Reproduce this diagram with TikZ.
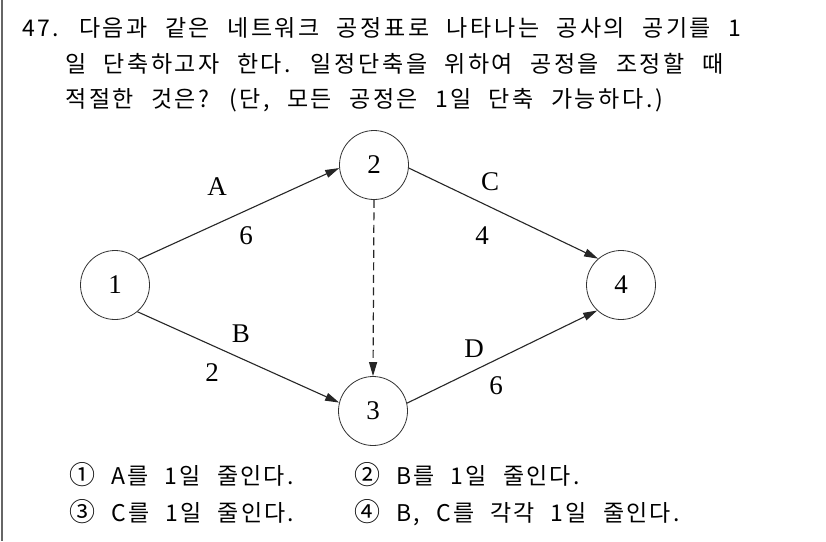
\documentclass[tikz,border=0pt]{standalone}
\usepackage{fontspec}
\setmainfont{Liberation Serif}
\newfontfamily\kr[LetterSpace=11.5,WordSpace=2.2]{Noto Sans CJK KR}
\newfontfamily\krc[LetterSpace=9.5,WordSpace=2.2]{Noto Sans CJK KR}
\newcommand\circnum[1]{{\fontsize{26}{26}\selectfont #1}}
\usetikzlibrary{arrows.meta}
\begin{document}
\begin{tikzpicture}[x=1pt,y=-1pt,
  ev/.style={circle,draw=black!80,line width=0.8pt,minimum size=69pt,inner sep=0pt,font=\fontsize{27}{28}\selectfont},
  lab/.style={inner sep=0pt,font=\fontsize{27}{28}\selectfont},
  act/.style={draw=black!85,line width=1.1pt,-{Triangle[length=14pt,width=8pt]}},
  txt/.style={anchor=base west,inner sep=0pt,font=\kr\fontsize{23}{26}\selectfont},
  ctxt/.style={anchor=base west,inner sep=0pt,font=\krc\fontsize{23}{26}\selectfont}]
\useasboundingbox (0,0) rectangle (826,541);
\fill[white] (0,0) rectangle (826,541);
\draw[black!60,line width=2pt] (1.5,0) -- (1.5,541);
% question text
\node[txt] (q1) at (22,36) {47. 다음과 같은 네트워크 공정표로 나타나는 공사의 공기를 1};
\node[txt] (q2) at (65,72) {일 단축하고자 한다. 일정단축을 위하여 공정을 조정할 때};
\node[txt] (q3) at (65,107) {적절한 것은? (단, 모든 공정은 1일 단축 가능하다.)};
% network
\node[ev] (n1) at (115,285) {1};
\node[ev] (n2) at (374,165) {2};
\node[ev] (n3) at (373,411) {3};
\node[ev] (n4) at (621,285) {4};
\draw[act] (n1.47) -- (n2.185);
\draw[act] (n1.-50) -- (n3.166);
\draw[act] (n2.-5) -- (n4.131);
\draw[act] (n3.13) -- (n4.227);
\draw[act,line width=1.2pt,dash pattern=on 8pt off 4.5pt] (n2.south) -- (n3.north);
\node[lab] (la) at (217,187) {A};
\node[lab] (l6a) at (246,236) {6};
\node[lab] (lb) at (241,334) {B};
\node[lab] (l2) at (212,373) {2};
\node[lab] (lc) at (490,182) {C};
\node[lab] (l4) at (482,236) {4};
\node[lab] (ld) at (474,349) {D};
\node[lab] (l6d) at (496,386) {6};
% choices
\node[ctxt] (c1) at (69,484) {\circnum{①} A를 1일 줄인다.};
\node[ctxt] (c2) at (354,484) {\circnum{②} B를 1일 줄인다.};
\node[ctxt] (c3) at (69,521) {\circnum{③} C를 1일 줄인다.};
\node[ctxt] (c4) at (354,521) {\circnum{④} B, C를 각각 1일 줄인다.};
\end{tikzpicture}
\end{document}
